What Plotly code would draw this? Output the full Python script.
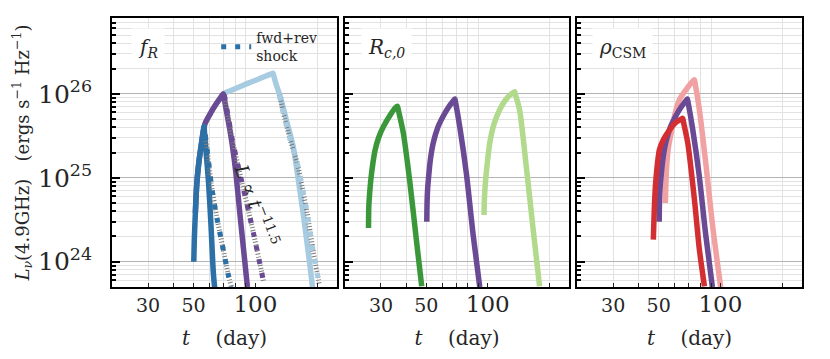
import numpy as np
import plotly.graph_objects as go
from plotly.subplots import make_subplots

# ── data (t in days, L_nu in erg/s/Hz) ─────────────────────────
# panel 1: f_R
t_blue = [50.1, 50.4, 51.0, 51.8, 53.0, 54.5, 55.8, 56.2, 56.5, 57.4, 59.0, 60.7, 62.4, 63.5]
L_blue = [1.0e24, 1.83e24, 3.83e24, 8.3e24, 1.51e25, 2.47e25, 3.65e25, 4.1e25, 3.5e25, 2.15e25, 9.5e24,
          2.9e24, 7.4e23, 4.6e23]
t_blue_fr = [57.0, 59.0, 61.0, 64.5, 69.0, 73.8, 76.4]
L_blue_fr = [3.25e25, 1.64e25, 8.3e24, 3.63e24, 1.59e24, 7.0e23, 5.0e23]

t_purp1 = [51.0, 51.8, 53.0, 54.5, 55.8, 57.0, 60.5, 64.5, 68.5, 69.8, 70.5, 72.5, 75.0, 77.5, 80.5,
           84.0, 87.5, 91.5]
L_purp1 = [3.83e24, 8.3e24, 1.51e25, 2.47e25, 3.65e25, 4.5e25, 5.9e25, 7.6e25, 9.4e25, 1.0e26, 8.8e25,
           6.0e25, 3.8e25, 2.3e25, 1.1e25, 3.8e24, 1.45e24, 5.0e23]
t_purp_fr = [70.6, 73.9, 77.2, 82.2, 87.7, 92.9, 98.3, 104.0, 110.0]
L_purp_fr = [9.7e25, 5.2e25, 2.83e25, 1.43e25, 7.2e24, 3.9e24, 2.1e24, 1.09e24, 5.6e23]

t_lblue = [57.0, 60.5, 64.5, 69.8, 75.0, 84.5, 93.0, 102.0, 112.0, 120.0, 122.0, 123.5, 126.6, 132.4, 141.6,
           153.0, 162.0, 171.0, 185.0, 190.0]
L_lblue = [4.5e25, 5.9e25, 7.6e25, 1.0e26, 1.08e26, 1.22e26, 1.35e26, 1.47e26, 1.62e26, 1.73e26, 1.76e26,
           1.58e26, 1.28e26, 9.2e25, 4.9e25, 2.34e25, 9.5e24, 3.8e24, 8.7e23, 5.0e23]
t_lblue_fr = [130.9, 137.0, 148.0, 160.0, 169.5, 179.0, 192.0, 203.0, 205.0]
L_lblue_fr = [9.7e25, 5.9e25, 2.83e25, 1.5e25, 7.6e24, 3.8e24, 1.28e24, 6.1e23, 5.3e23]

# panel 2: R_c,0
t_green = [26.07, 26.15, 26.4, 26.8, 27.4, 28.1, 29.2, 30.9, 33.3, 35.3, 36.1, 36.6, 38.6, 41.6, 44.9, 47.5]
L_green = [2.52e24, 4.5e24, 6.5e24, 9.8e24, 1.5e25, 2.15e25, 3.0e25, 4.1e25, 5.6e25, 6.85e25, 7.1e25, 6.2e25,
           3.4e25, 8.7e24, 1.67e24, 5.1e23]
t_purp = [50.3, 50.45, 50.8, 51.3, 52.3, 54.1, 57.0, 60.5, 64.5, 68.2, 69.0, 69.7, 73.0, 78.7, 84.8, 91.4]
L_purp = [3.0e24, 5.0e24, 7.5e24, 1.0e25, 1.6e25, 2.6e25, 4.0e25, 5.4e25, 7.0e25, 8.4e25, 8.7e25, 7.7e25,
          4.0e25, 1.1e25, 2.1e24, 5.0e23]
t_lgreen = [95.9, 96.3, 97.4, 99.5, 102.3, 107.0, 114.4, 122.4, 130.0, 135.4, 136.8, 143.2, 154.4, 166.3, 179.4]
L_lgreen = [3.6e24, 5.5e24, 8.7e24, 1.5e25, 2.6e25, 4.27e25, 6.45e25, 8.5e25, 9.9e25, 1.06e26, 9.7e25,
            6.45e25, 1.37e25, 2.63e24, 5.1e23]

# panel 3: rho_CSM
t_pink = [53.9, 54.2, 54.7, 55.8, 57.5, 60.0, 63.1, 69.0, 73.5, 74.7, 75.6, 79.0, 85.2, 91.7, 100.3]
L_pink = [5.0e24, 8.3e24, 1.37e25, 2.3e25, 3.4e25, 5.7e25, 8.5e25, 1.18e26, 1.42e26, 1.47e26, 1.26e26,
          6.45e25, 1.37e25, 2.63e24, 5.0e23]
t_red = [47.1, 47.6, 48.2, 49.2, 50.4, 52.7, 56.4, 60.3, 64.5, 65.5, 66.2, 69.3, 74.7, 79.0, 83.6]
L_red = [1.83e24, 4.2e24, 7.9e24, 1.4e25, 2.15e25, 2.83e25, 3.7e25, 4.5e25, 5.0e25, 5.1e25, 4.5e25, 2.6e25,
         5.5e24, 1.39e24, 5.1e23]

panel_labels = ["<i>f<sub>R</sub></i>", "<i>R<sub>c,0</sub></i>", "<i>ρ</i><sub>CSM</sub>"]
x_tickvals = [30, 50, 100]
x_ticktext = ["30", "50", "<span style='font-size:23px'>100</span>"]
y_tickvals = [1e24, 1e25, 1e26]
y_ticktext = ["10<sup>24</sup>", "10<sup>25</sup>", "10<sup>26</sup>"]

# ── style ──────────────────────────────────────────────────────
C = {
    "blue": "#2b70a6", "lblue": "#a7cbe1", "purple": "#6a4a94",
    "green": "#3b983a", "lgreen": "#b1da8d", "pink": "#f1a1a1", "red": "#d32f33",
    "hatch": "#7b7b7b", "text": "#262626",
}
FONT = "DejaVu Serif"
LW = 5.5

fig = make_subplots(rows=1, cols=3, shared_yaxes=True)


def solid(t, L, color, col):
    fig.add_trace(go.Scatter(x=t, y=L, mode="lines",
                             line=dict(color=color, width=LW, shape="spline", smoothing=0.7),
                             showlegend=False, hoverinfo="skip"), row=1, col=col)


def fwd_rev(t, L, color, col, legend=False):
    # grey hatch underneath + coloured dashes on top
    fig.add_trace(go.Scatter(x=t, y=L, mode="lines",
                             line=dict(color=C["hatch"], width=5, dash="1px,2px", shape="spline", smoothing=0.6),
                             showlegend=False, hoverinfo="skip"), row=1, col=col)
    fig.add_trace(go.Scatter(x=t, y=L, mode="lines", name="fwd+rev<br>shock",
                             line=dict(color=color, width=5, dash="5px,9px", shape="spline", smoothing=0.6),
                             showlegend=legend, hoverinfo="skip"), row=1, col=col)


# panel 1
solid(t_lblue, L_lblue, C["lblue"], 1)
solid(t_purp1, L_purp1, C["purple"], 1)
solid(t_blue, L_blue, C["blue"], 1)
fwd_rev(t_lblue_fr, L_lblue_fr, C["lblue"], 1)
fwd_rev(t_purp_fr, L_purp_fr, C["purple"], 1)
fwd_rev(t_blue_fr, L_blue_fr, C["blue"], 1, legend=True)

# panel 2
solid(t_green, L_green, C["green"], 2)
solid(t_purp, L_purp, C["purple"], 2)
solid(t_lgreen, L_lgreen, C["lgreen"], 2)

# panel 3
solid(t_pink, L_pink, C["pink"], 3)
solid(t_purp, L_purp, C["purple"], 3)
solid(t_red, L_red, C["red"], 3)

# ── axes ───────────────────────────────────────────────────────
x_minor = [20, 30, 40, 50, 60, 70, 80, 90, 200]
y_minor = [m * 10.0 ** e for e in range(23, 27) for m in range(2, 10) if 5e23 <= m * 10.0 ** e <= 8e26]

domains = [[0.0, 0.326], [0.3377, 0.6623], [0.674, 1.0]]
for i in range(3):
    fig.update_xaxes(
        type="log", range=[np.log10(20), np.log10(250)], domain=domains[i], automargin=False,
        tickmode="array", tickvals=x_tickvals, ticktext=x_ticktext,
        ticks="inside", ticklen=4, tickwidth=1, tickcolor=C["text"],
        showgrid=False, zeroline=False,
        showline=True, mirror=True, linecolor="black", linewidth=1.8,
        tickfont=dict(family=FONT, size=19, color=C["text"]),
        minor=dict(tickmode="array", tickvals=x_minor, ticks="inside", ticklen=4,
                   tickcolor=C["text"], showgrid=True, gridcolor="#e2e2e2", gridwidth=1),
        title=dict(text="<i>t</i>\u00a0\u00a0\u00a0\u00a0(day)", standoff=15,
                   font=dict(family=FONT, size=20, color=C["text"])),
        row=1, col=i + 1,
    )
    fig.update_yaxes(
        type="log", range=[np.log10(5e23), np.log10(8e26)], automargin=False,
        tickmode="array", tickvals=y_tickvals, ticktext=y_ticktext,
        ticks="inside", ticklen=8, tickwidth=1.5, tickcolor="black",
        showgrid=True, gridcolor="#b4b4b4", gridwidth=1.2, zeroline=False,
        showline=True, mirror=True, linecolor="black", linewidth=1.8,
        tickfont=dict(family=FONT, size=25, color=C["text"]),
        ticklabelstandoff=13,
        minor=dict(tickmode="array", tickvals=y_minor, ticks="inside", ticklen=4,
                   tickcolor="black", showgrid=True, gridcolor="#e2e2e2", gridwidth=1),
        row=1, col=i + 1,
    )
    xr = "x" if i == 0 else f"x{i + 1}"
    yr = "y" if i == 0 else f"y{i + 1}"
    # darker major grid line at t = 100
    fig.add_shape(type="line", xref=xr, yref=f"{yr} domain", x0=2, x1=2, y0=0, y1=1,
                  line=dict(color="#b4b4b4", width=1.2), layer="below")
    fig.add_annotation(xref=f"{xr} domain", yref=f"{yr} domain", x=[0.16, 0.183, 0.204][i], y=0.89,
                       xanchor="center", yanchor="middle",
                       text=panel_labels[i], showarrow=False, bgcolor="white", borderpad=6,
                       font=dict(family=FONT, size=20, color=C["text"]))

fig.update_yaxes(
    title=dict(text="<i>L</i><sub><i>ν</i></sub>(4.9GHz)\u00a0\u00a0\u00a0(ergs\u00a0s<sup>−1</sup>\u00a0Hz<sup>−1</sup>)"
                    "\u00a0\u00a0\u00a0",
               standoff=4, font=dict(family=FONT, size=18, color=C["text"])),
    row=1, col=1,
)

fig.add_annotation(xref="x", yref="y", x=np.log10(102.3), y=np.log10(4.8e24),
                   text="<i>L</i> ∝ <i>t</i><sup>−11.5</sup>", textangle=69, showarrow=False,
                   font=dict(family=FONT, size=19, color=C["text"]))

# the page body adds an 8px offset, so margins are shifted to compensate
fig.update_layout(
    width=830, height=359,
    margin=dict(l=104, r=36, t=10, b=80),
    paper_bgcolor="white", plot_bgcolor="white",
    font=dict(family=FONT, color=C["text"]),
    legend=dict(x=0.151, y=0.985, xanchor="left", yanchor="top", valign="middle",
                bgcolor="rgba(0,0,0,0)",
                font=dict(family=FONT, size=14, color=C["text"]), itemwidth=30),
)

fig.write_html("out.html")
